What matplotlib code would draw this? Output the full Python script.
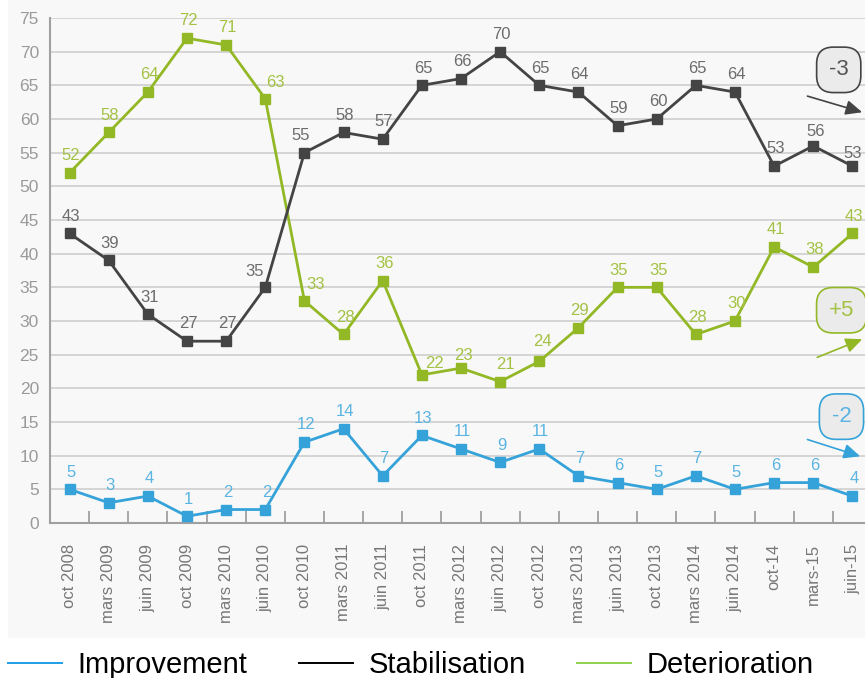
import numpy as np
import matplotlib
matplotlib.use('Agg')
import matplotlib.pyplot as plt
from matplotlib.patches import Rectangle
from matplotlib.lines import Line2D

plt.rcParams['font.family'] = ['Liberation Sans', 'DejaVu Sans']

periods = ['oct 2008', 'mars 2009', 'juin 2009', 'oct 2009', 'mars 2010',
           'juin 2010', 'oct 2010', 'mars 2011', 'juin 2011', 'oct 2011',
           'mars 2012', 'juin 2012', 'oct 2012', 'mars 2013', 'juin 2013',
           'oct 2013', 'mars 2014', 'juin 2014', 'oct-14', 'mars-15', 'juin-15']
improvement = [5, 3, 4, 1, 2, 2, 12, 14, 7, 13, 11, 9, 11, 7, 6, 5, 7, 5, 6, 6, 4]
stabilisation = [43, 39, 31, 27, 27, 35, 55, 58, 57, 65, 66, 70, 65, 64, 59, 60,
                 65, 64, 53, 56, 53]
deterioration = [52, 58, 64, 72, 71, 63, 33, 28, 36, 22, 23, 21, 24, 29, 35, 35,
                 28, 30, 41, 38, 43]
changes = ['-3', '+5', '-2']

BLUE = '#35a3d9'
GREY = '#444444'
GREEN = '#93b826'
LBL_BLUE = '#5ab4e2'
LBL_GREY = '#6c6c6c'
LBL_GREEN = '#a3c244'

fig = plt.figure(figsize=(8.65, 6.78), dpi=100)
fig.patch.set_facecolor('white')
# light panel behind chart and tick labels
fig.patches.append(Rectangle((8 / 865, 40 / 678), 1, 1, transform=fig.transFigure,
                             facecolor='#f8f8f8', edgecolor='none', zorder=-5))

ax = fig.add_axes([50 / 865, 1 - 523 / 678, 822 / 865, 505 / 678])
ax.set_facecolor('none')

x = np.arange(len(periods))

series = [
    (deterioration, GREEN, LBL_GREEN),
    (stabilisation, GREY, LBL_GREY),
    (improvement, BLUE, LBL_BLUE),
]
for vals, col, lcol in series:
    ax.plot(x, vals, color=col, lw=2.0, marker='s', ms=6.5, mec=col, mfc=col,
            zorder=3, clip_on=False)

# label offsets (points) for crowded spots
offs_green = {5: (7, 6), 6: (8, 6), 9: (9, 3), 10: (2, 4), 11: (4, 7), 12: (2, 9)}
offs_grey = {5: (-8, 6), 6: (-3, 7), 19: (2, 5), 20: (0, 4)}
offs_blue = {}
for (vals, col, lcol), offs in zip(series, [offs_green, offs_grey, offs_blue]):
    for i, v in enumerate(vals):
        dx, dy = offs.get(i, (1, 7))
        ax.annotate(str(v), (i, v), xytext=(dx, dy), textcoords='offset points',
                    ha='center', va='bottom', fontsize=12, color=lcol, zorder=4)

ax.set_xlim(-0.5, len(periods) - 0.5)
ax.set_ylim(0, 75)
ax.set_yticks(np.arange(0, 80, 5))
ax.yaxis.grid(True, color='#cfcfcf', lw=1.2)
ax.set_axisbelow(True)
ax.tick_params(axis='y', length=0, pad=8, labelsize=12.5, labelcolor='#9a9a9a')

ax.set_xticks(x)
ax.set_xticklabels(periods, rotation=90, fontsize=12, color='#777777')
ax.tick_params(axis='x', which='major', length=0, pad=15)
ax.set_xticks(x[:-1] + 0.5, minor=True)
ax.tick_params(axis='x', which='minor', direction='in', length=9, width=1.3,
               color='#a0a0a0')

for s in ['top', 'right']:
    ax.spines[s].set_visible(False)
for s in ['left', 'bottom']:
    ax.spines[s].set_color('#a0a0a0')
    ax.spines[s].set_linewidth(1.5)

# change callouts on the right
callouts = [
    (changes[0], GREY, '#555555', (19.65, 67.3), (18.85, 63.4), (20.25, 61.0)),
    (changes[1], GREEN, LBL_GREEN, (19.72, 31.6), (19.1, 24.6), (20.25, 27.3)),
    (changes[2], BLUE, LBL_BLUE, (19.72, 15.8), (18.85, 12.4), (20.2, 9.9)),
]
for txt, col, tcol, pos, a0, a1 in callouts:
    ax.text(pos[0], pos[1], txt, ha='center', va='center', fontsize=16,
            color=tcol, zorder=6, clip_on=False,
            bbox=dict(boxstyle='round,pad=0.55,rounding_size=0.75',
                      facecolor='#ebebeb', edgecolor=col, lw=1.2))
    ax.annotate('', xy=a1, xytext=a0, zorder=6, annotation_clip=False,
                arrowprops=dict(arrowstyle='-|>,head_length=1.0,head_width=0.45',
                                color=col, lw=1.2, shrinkA=0, shrinkB=0))

handles = [Line2D([], [], color='#1e9fe6', lw=1.4),
           Line2D([], [], color='black', lw=1.4),
           Line2D([], [], color='#8fd14f', lw=1.4)]
fig.legend(handles, ['Improvement', 'Stabilisation', 'Deterioration'],
           loc='lower center', bbox_to_anchor=(0.475, -0.04), ncol=3,
           frameon=False, fontsize=21, handlelength=1.85, handletextpad=0.55,
           columnspacing=1.75)

fig.savefig('out.png', dpi=100, facecolor='white')
